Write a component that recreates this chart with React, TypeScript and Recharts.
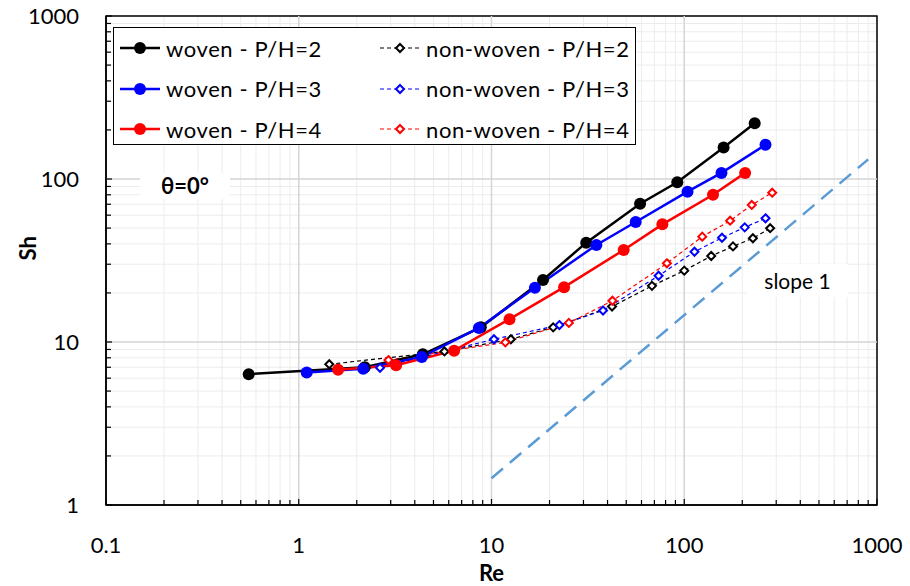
import React from "react";
import { CartesianGrid, Legend, Line, LineChart, ReferenceArea, ReferenceLine, XAxis, YAxis } from "recharts";

// Re values and Sh values, one pair of arrays per series
const wovenPH2Re = [0.55, 2.2, 4.4, 8.8, 18.5, 31, 59, 92, 160, 232];
const wovenPH2Sh = [6.35, 7.0, 8.4, 12.3, 24, 40.7, 70.5, 95.5, 156, 220];

const wovenPH3Re = [1.1, 2.16, 4.35, 8.6, 16.8, 35, 56, 104, 156, 264];
const wovenPH3Sh = [6.5, 6.85, 8.1, 12.2, 21.5, 39.4, 54.5, 83.6, 109, 162];

const wovenPH4Re = [1.6, 3.2, 6.4, 12.4, 23.8, 48.5, 77, 141, 207];
const wovenPH4Sh = [6.75, 7.2, 8.85, 13.8, 21.7, 36.7, 52.7, 80, 109];

const nonWovenPH2Re = [1.44, 5.7, 12.6, 20.9, 42.2, 68, 100, 138, 179, 227, 279];
const nonWovenPH2Sh = [7.3, 8.75, 10.4, 12.3, 16.5, 22.1, 27.4, 33.7, 38.6, 43.3, 49.9];

const nonWovenPH3Re = [2.64, 10.3, 22.5, 37.9, 73.6, 113, 157, 206, 264];
const nonWovenPH3Sh = [6.95, 10.4, 12.7, 15.6, 25.5, 35.8, 43.6, 50.5, 57.4];

const nonWovenPH4Re = [2.92, 11.8, 25.2, 42.4, 81.3, 124, 173, 224, 286];
const nonWovenPH4Sh = [7.75, 9.95, 13.1, 17.9, 30.4, 44.3, 55.5, 69.3, 82.4];

const slopeRe = [10, 900];
const slopeSh = [1.46, 132];

const xMajor = [0.1, 1, 10, 100, 1000];
const yMajor = [1, 10, 100, 1000];
const xLabels = ["0.1", "1", "10", "100", "1000"];
const yLabels = ["1", "10", "100", "1000"];

const FONT = "Lato, 'Open Sans', sans-serif";

const pts = (re: number[], sh: number[]) => re.map((r, i) => ({ re: r, sh: sh[i] }));

// majors plus the 2..9 minors of each decade
const withMinors = (majors: number[]) => {
  const out: number[] = [];
  majors.forEach((m, i) => {
    out.push(m);
    if (i < majors.length - 1) for (let k = 2; k <= 9; k++) out.push(Number((m * k).toPrecision(3)));
  });
  return out;
};
const xTicks = withMinors(xMajor);
const yTicks = withMinors(yMajor);

const series = [
  { name: "non-woven - P/H=2", data: pts(nonWovenPH2Re, nonWovenPH2Sh), color: "#000000", woven: false },
  { name: "non-woven - P/H=3", data: pts(nonWovenPH3Re, nonWovenPH3Sh), color: "#0000ff", woven: false },
  { name: "non-woven - P/H=4", data: pts(nonWovenPH4Re, nonWovenPH4Sh), color: "#ff0000", woven: false },
  { name: "woven - P/H=2", data: pts(wovenPH2Re, wovenPH2Sh), color: "#000000", woven: true },
  { name: "woven - P/H=3", data: pts(wovenPH3Re, wovenPH3Sh), color: "#0000ff", woven: true },
  { name: "woven - P/H=4", data: pts(wovenPH4Re, wovenPH4Sh), color: "#ff0000", woven: true },
];

function XTick({ x, y, payload }: any) {
  const i = xMajor.indexOf(payload.value);
  return (
    <g>
      <line x1={x} x2={x} y1={y} y2={y - (i >= 0 ? 6 : 5)} stroke="#000" strokeWidth={1.2} />
      {i >= 0 && (
        <text x={x} y={y + 48} textAnchor="middle" fontSize={22} fontFamily={FONT} fill="#000">
          {xLabels[i]}
        </text>
      )}
    </g>
  );
}

function YTick({ x, y, payload }: any) {
  const i = yMajor.indexOf(payload.value);
  return (
    <g>
      <line x1={x} x2={x + (i >= 0 ? 6 : 5)} y1={y} y2={y} stroke="#000" strokeWidth={1.2} />
      {i >= 0 && (
        <text x={x - 27} y={y + 8} textAnchor="end" fontSize={22} fontFamily={FONT} fill="#000">
          {yLabels[i]}
        </text>
      )}
    </g>
  );
}

function Diamond({ cx, cy, color }: any) {
  if (cx == null || cy == null) return null;
  const r = 4;
  return (
    <path
      d={`M${cx},${cy - r}L${cx + r},${cy}L${cx},${cy + r}L${cx - r},${cy}Z`}
      fill="#fff"
      stroke={color}
      strokeWidth={2}
    />
  );
}

function Swatch({ color, woven }: { color: string; woven: boolean }) {
  return (
    <svg width={44} height={16} style={{ display: "block" }}>
      <line
        x1={2}
        x2={42}
        y1={8}
        y2={8}
        stroke={color}
        strokeWidth={woven ? 2.5 : 1.2}
        strokeDasharray={woven ? undefined : "4 3"}
      />
      {woven ? (
        <circle cx={22} cy={8} r={6} fill={color} />
      ) : (
        <path d="M22,4L26,8L22,12L18,8Z" fill="#fff" stroke={color} strokeWidth={2} />
      )}
    </svg>
  );
}

function LegendBox() {
  const rows = [0, 1, 2];
  return (
    <div
      style={{
        width: 521,
        height: 116,
        border: "1.5px solid #000",
        background: "#fff",
        fontFamily: FONT,
        fontSize: 22,
        letterSpacing: 0.6,
        color: "#000",
        position: "relative",
      }}
    >
      {rows.map((r) =>
        [series[3 + r], series[r]].map((s, c) => (
          <div
            key={s.name}
            style={{
              position: "absolute",
              left: c === 0 ? 4 : 264,
              top: 6 + r * 40.5,
              height: 28,
              display: "flex",
              alignItems: "center",
              gap: 4,
              whiteSpace: "nowrap",
            }}
          >
            <Swatch color={s.color} woven={s.woven} />
            <span>{s.name}</span>
          </div>
        ))
      )}
    </div>
  );
}

export default function App() {
  return (
    <div style={{ position: "absolute", left: 0, top: 0, width: 910, height: 586, background: "#fff" }}>
      <LineChart width={910} height={586} margin={{ top: 16, right: 33, left: 0, bottom: 0 }}>
        <CartesianGrid stroke="#ececec" strokeWidth={1} />
        {[1, 10, 100].map((v) => (
          <ReferenceLine key={"vx" + v} x={v} stroke="#d6d6d6" strokeWidth={1.5} />
        ))}
        {[10, 100].map((v) => (
          <ReferenceLine key={"hy" + v} y={v} stroke="#d6d6d6" strokeWidth={1.5} />
        ))}
        <XAxis
          type="number"
          dataKey="re"
          scale="log"
          domain={[0.1, 1000]}
          ticks={xTicks}
          interval={0}
          allowDataOverflow
          height={81}
          tickSize={0}
          tickMargin={0}
          tickLine={false}
          axisLine={{ stroke: "#000", strokeWidth: 1.5 }}
          tick={<XTick />}
          label={{ value: "Re", position: "insideBottom", offset: 5, fontSize: 22, fontWeight: 700, fontFamily: FONT, fill: "#000" }}
        />
        <YAxis
          type="number"
          dataKey="sh"
          scale="log"
          domain={[1, 1000]}
          ticks={yTicks}
          interval={0}
          allowDataOverflow
          width={106}
          tickSize={0}
          tickMargin={0}
          tickLine={false}
          axisLine={{ stroke: "#000", strokeWidth: 1.5 }}
          tick={<YTick />}
          label={{ value: "Sh", angle: -90, position: "insideLeft", offset: 28, fontSize: 22, fontWeight: 700, fontFamily: FONT, fill: "#000" }}
        />
        <ReferenceArea x1={0.1} x2={1000} y1={1} y2={1000} fill="none" stroke="#000" strokeWidth={1.5} ifOverflow="visible" />
        <Line
          data={pts(slopeRe, slopeSh)}
          dataKey="sh"
          stroke="#5b9bd5"
          strokeWidth={2.5}
          strokeDasharray="15 9"
          dot={false}
          isAnimationActive={false}
          legendType="none"
        />
        {series.map((s) =>
          s.woven ? (
            <Line
              key={s.name}
              name={s.name}
              data={s.data}
              dataKey="sh"
              stroke={s.color}
              strokeWidth={2.5}
              dot={{ r: 6, fill: s.color, stroke: s.color, strokeWidth: 0 }}
              activeDot={false}
              isAnimationActive={false}
            />
          ) : (
            <Line
              key={s.name}
              name={s.name}
              data={s.data}
              dataKey="sh"
              stroke={s.color}
              strokeWidth={1.2}
              strokeDasharray="4 3"
              dot={(p: any) => <Diamond key={p.index} cx={p.cx} cy={p.cy} color={s.color} />}
              activeDot={false}
              isAnimationActive={false}
            />
          )
        )}
        <Legend
          layout="vertical"
          align="center"
          verticalAlign="middle"
          content={() => <LegendBox />}
          wrapperStyle={{ left: 113, top: 27, width: 524, height: 119 }}
        />
      </LineChart>
      <div
        style={{
          position: "absolute",
          left: 140,
          top: 173,
          width: 90,
          height: 26,
          background: "#fff",
          fontFamily: FONT,
          fontWeight: 700,
          fontSize: 22,
          lineHeight: "26px",
          textAlign: "center",
        }}
      >
        θ=0°
      </div>
      <div
        style={{
          position: "absolute",
          left: 747,
          top: 264,
          width: 101,
          height: 33,
          background: "#fff",
          fontFamily: FONT,
          fontSize: 21,
          lineHeight: "33px",
          textAlign: "center",
        }}
      >
        slope 1
      </div>
    </div>
  );
}
